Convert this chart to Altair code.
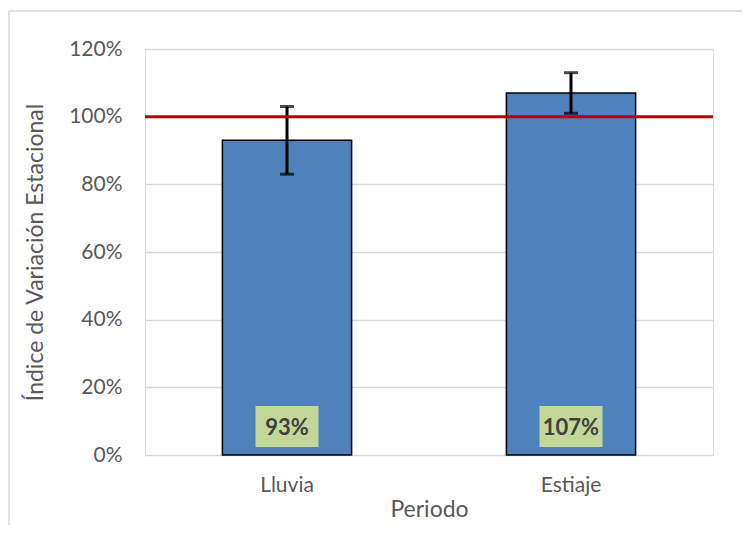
import altair as alt
import pandas as pd

periodos = ["Lluvia", "Estiaje"]
indices = [0.93, 1.07]
err_low = [0.83, 1.01]
err_high = [1.03, 1.13]
etiquetas = ["93%", "107%"]
referencia = [1.0]

df = pd.DataFrame({"Periodo": periodos, "ind": indices, "lo": err_low,
                   "hi": err_high, "lab": etiquetas})
ref = pd.DataFrame({"r": referencia})

FONT = "Lato"
W, H = 568, 406
YTITLE = "Índice de Variación Estacional"

xenc = alt.X("Periodo:N", sort=periodos,
             scale=alt.Scale(paddingInner=0.545, paddingOuter=0.2725),
             axis=alt.Axis(title="Periodo", labelAngle=0))
yscale = alt.Scale(domain=[0, 1.2], nice=False)

bars = alt.Chart(df).mark_bar(color="#4F81BD", stroke="#000000", strokeWidth=1.5).encode(
    x=xenc,
    y=alt.Y("ind:Q", scale=yscale,
            axis=alt.Axis(title=YTITLE, format=".0%",
                          values=[0, 0.2, 0.4, 0.6, 0.8, 1.0, 1.2])),
)

errs = alt.Chart(df).mark_errorbar(ticks=alt.MarkConfig(size=14, color="#000000", strokeWidth=3),
                                   color="#000000", thickness=3).encode(
    x=alt.X("Periodo:N", sort=periodos),
    y=alt.Y("lo:Q", scale=yscale, title=YTITLE),
    y2="hi:Q",
)

rule = alt.Chart(ref).mark_rule(color="#C00000", strokeWidth=3).encode(
    y=alt.Y("r:Q", scale=yscale, title=YTITLE),
    x=alt.value(0), x2=alt.value(W),
)

boxes = alt.Chart(df).mark_bar(color="#C4D79B", size=63).encode(
    x=alt.X("Periodo:N", sort=periodos),
    y=alt.value(357), y2=alt.value(398),
)

labels = alt.Chart(df).mark_text(font=FONT, fontSize=22, fontWeight="bold",
                                 color="#404040", baseline="middle").encode(
    x=alt.X("Periodo:N", sort=periodos),
    y=alt.value(379),
    text="lab:N",
)

frame_top = alt.Chart(ref).mark_rule(color="#D9D9D9", strokeWidth=1.5).encode(
    x=alt.value(-136), x2=alt.value(620), y=alt.value(-38))
frame_left = alt.Chart(ref).mark_rule(color="#D9D9D9", strokeWidth=1.5).encode(
    x=alt.value(-136), y=alt.value(-38), y2=alt.value(490))

chart = alt.layer(frame_top, frame_left, bars, boxes, labels, errs, rule).properties(
    width=W, height=H,
    padding={"left": 137, "top": 41, "right": 29, "bottom": 70},
    autosize=alt.AutoSizeParams(type="none"),
).configure_view(stroke=None).configure(background="white").configure_axis(
    ticks=False, domain=False, labelFont=FONT, titleFont=FONT,
    labelFontSize=21, labelColor="#595959", titleFontSize=23, titleColor="#595959",
    titleFontWeight="normal", gridColor="#D9D9D9", gridWidth=1.5,
).configure_axisX(grid=False, labelPadding=19, titlePadding=3).configure_axisY(
    labelPadding=23, titlePadding=21)

chart.save("out.html", embed_options={"renderer": "svg", "actions": False})
